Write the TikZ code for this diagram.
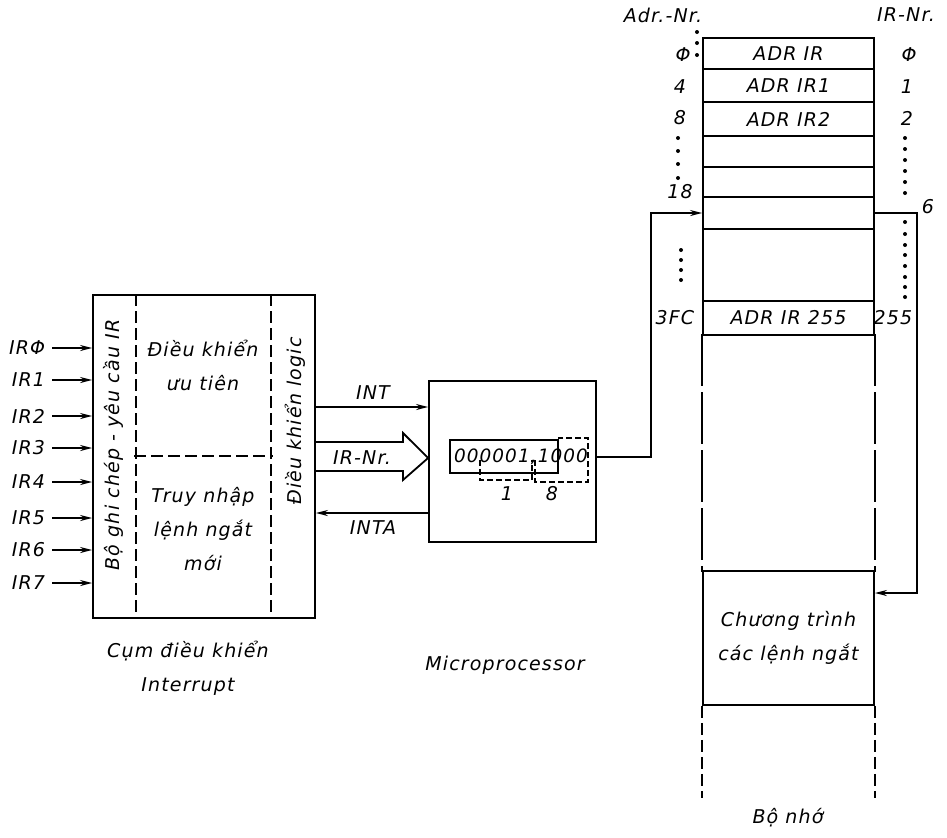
\documentclass[tikz,border=0pt]{standalone}
\usepackage{fontspec}
\setmainfont{DejaVu Sans}[ItalicFont=DejaVu Sans Oblique, LetterSpace=6]
\usetikzlibrary{arrows.meta, positioning, fit, calc}

\begin{document}
\begin{tikzpicture}[
    x=0.5pt, y=-0.5pt,
    line width=0.9pt,
    lbl/.style={font=\fontsize{9.5}{17}\selectfont\itshape, inner sep=1pt, align=center},
    box/.style={draw, inner sep=0pt},
    col/.style={inner sep=0pt},
    sep/.style={dash pattern=on 6pt off 2.5pt},
    finesep/.style={line width=0.7pt, dash pattern=on 3pt off 1.5pt},
    longsep/.style={dash pattern=on 26pt off 3pt},
    link/.style={-{Stealth[length=6pt, width=3pt]}}
]
\useasboundingbox (0,0) rectangle (947,837);

% interrupt controller
\node[box, fit={(93,295) (315,618)}] (blk) {};
\node[col, fit={(93,295) (135,618)}] (reqcol) {};
\node[col, fit={(272,295) (315,618)}] (logcol) {};
\node[col, fit={(135,295) (272,455)}] (prio) {};
\node[col, fit={(135,455) (272,618)}] (acc) {};
\draw[sep] (reqcol.north east) -- (reqcol.south east);
\draw[sep] (logcol.north west) -- (logcol.south west);
\draw[sep] (prio.south west) -- (prio.south east);

\node[lbl, rotate=90] (reqtxt) at (113,445) {Bộ ghi chép - yêu cầu IR};
\node[lbl, rotate=90] (logtxt) at (295,421) {Điều khiển logic};
\node[lbl] (priotxt) at (203,365) {Điều khiển\\ưu tiên};
\node[lbl] (acctxt) at (203,529) {Truy nhập\\lệnh ngắt\\mới};

\foreach \i/\t/\y in {0/IRΦ/348, 1/IR1/380, 2/IR2/416, 3/IR3/448,
                      4/IR4/482, 5/IR5/518, 6/IR6/550, 7/IR7/583} {
    \node[lbl, anchor=east] (ir\i) at (48,\y) {\t};
    \draw[link] ([xshift=2pt]ir\i.east) -- (ir\i.east -| blk.west);
}

% microprocessor
\node[box, fit={(429,381) (596,542)}] (mp) {};
\node[lbl] (int) at (373,393) {INT};
\node[lbl] (irnr) at (362,458) {IR-Nr.};
\node[lbl] (inta) at (373,528) {INTA};
\draw[link] (blk.east |- 0,407) -- (mp.west |- 0,407);
\draw[link] (mp.west |- 0,513) -- (blk.east |- 0,513);
\draw (blk.east |- 0,442) -- (403,442) -- (403,433) -- (mp.west |- irnr)
      -- (403,480) -- (403,471) -- (blk.east |- 0,471);

\node[lbl, font=\fontsize{9.2}{12}\selectfont\itshape] (reg) at (521,457) {000001,1000};
\node[box, fit={(450,440) (558,473)}] (regbox) {};
\draw[finesep] (480,460) |- (532,480) -- (532,460);
\draw[finesep] (535,460) |- (588,482) -- (588,438) -- (558,438);
\node[lbl] (one) at (507,494) {1};
\node[lbl] (eight) at (552,494) {8};

% memory
\foreach \n/\a/\b/\t in {1/38/69/ADR IR, 2/69/102/ADR IR1, 3/102/136/ADR IR2,
                         4/136/167/, 5/167/197/, 6/197/229/, 7/229/301/,
                         8/301/335/ADR IR 255, 10/571/705/{Chương trình\\các lệnh ngắt}} {
    \node[box, fit={(703,\a) (874,\b)}] (r\n) {};
    \node[lbl] (t\n) at (r\n) {\t};
}
\node[col, fit={(703,335) (874,571)}] (r9) {};
\draw[longsep] (r9.north west) -- (r9.south west);
\draw[longsep] (r9.north east) -- (r9.south east);
\draw[sep] (r10.south west) -- ++(0,92);
\draw[sep] (r10.south east) -- ++(0,92);

\node[lbl] (adr) at (663,15) {Adr.-Nr.};
\node[lbl] (irn) at (906,15) {IR-Nr.};
\node[lbl] (a0) at (683,55) {Φ};
\node[lbl] (a4) at (680,87) {4};
\node[lbl] (a8) at (680,118) {8};
\node[lbl] (a18) at (680,192) {18};
\node[lbl] (a3fc) at (675,318) {3FC};
\node[lbl] (n0) at (909,55) {Φ};
\node[lbl] (n1) at (907,87) {1};
\node[lbl] (n2) at (907,118) {2};
\node[lbl] (n6) at (928,207) {6};
\node[lbl] (n255) at (893,318) {255};

\foreach \y in {32,43,55} \fill (697,\y) circle (1pt);
\foreach \y in {138,151,164,178} \fill (678,\y) circle (1pt);
\foreach \y in {250,260,270,280} \fill (681,\y) circle (1pt);
\foreach \y in {138,149,160,171,182,193,222,234,245,255,266,277,287,297}
    \fill (905,\y) circle (1pt);

\draw[link] (mp.east |- reg) -- ++(54,0) |- (r6.west);
\draw[link] (r6.east) -- ++(42,0) |- (r10.east |- 0,593);

% captions
\node[lbl] (cap1) at (188,668) {Cụm điều khiển\\Interrupt};
\node[lbl] (cap2) at (505,665) {Microprocessor};
\node[lbl] (cap3) at (788,818) {Bộ nhớ};
\end{tikzpicture}
\end{document}
